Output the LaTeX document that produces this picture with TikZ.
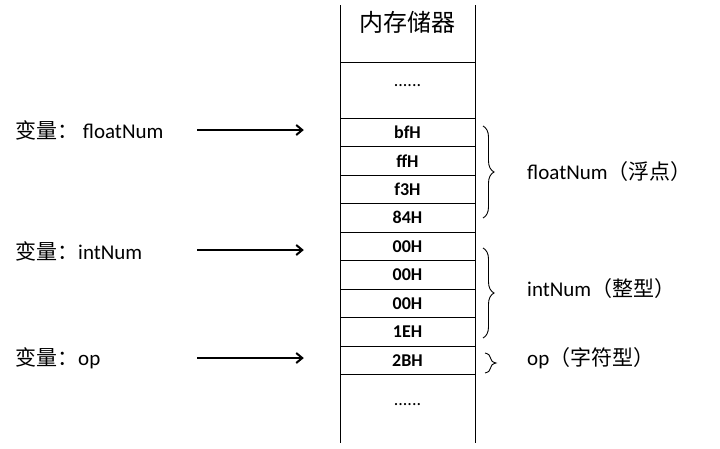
\documentclass[tikz,border=0pt]{standalone}
\usepackage{fontspec}
\setmainfont{Carlito}
\newfontfamily\cjk{Noto Sans CJK SC}
\usetikzlibrary{arrows.meta,decorations.pathreplacing}
\tikzset{
  cell/.style = {draw, minimum width = 135pt, minimum height = 28.5pt, inner sep = 0pt,
                 font = \fontsize{18}{18}\selectfont\bfseries},
  lab/.style = {anchor = west, inner sep = 0pt, font = \fontsize{21}{21}\selectfont},
  ptr/.style = {-{Straight Barb[length=6pt, width=10pt]}, line width = 2pt},
  brc/.style = {decorate, decoration = {brace, amplitude = 11pt}, line width = 0.9pt}
}

\begin{document}
\begin{tikzpicture}[x = 1pt, y = -1pt]
  \useasboundingbox (0, 0) rectangle (720, 448);
  % memory column
  \draw [line width = 0.8pt] (340, 5) -- (340, 443);
  \draw [line width = 0.8pt] (475, 5) -- (475, 443);
  \draw [line width = 0.8pt] (340, 62) -- (475, 62);
  \node (MT) at (407.5, 22) {\fontsize{24}{24}\selectfont\cjk 内存储器};
  \node (D1) at (407.5, 86) {\fontsize{18}{18}\selectfont ......};
  \node (D2) at (407.5, 405) {\fontsize{18}{18}\selectfont ......};
  \foreach \v [count = \i] in {bfH, ffH, f3H, 84H, 00H, 00H, 00H, 1EH, 2BH}
    \node [cell] (C\i) at (407.5, 103.75 + 28.5*\i) {\v};
  % variables
  \node [lab] (V1) at (15, 130) {{\cjk 变量：} floatNum};
  \node [lab] (V2) at (15, 251) {{\cjk 变量：}intNum};
  \node [lab] (V3) at (15, 358) {{\cjk 变量：}op};
  \coordinate (P1) at (197, 130);
  \coordinate (P2) at (197, 250);
  \coordinate (P3) at (197, 358);
  \draw [ptr] (P1) -- ([xshift = -36pt] C1.west |- P1);
  \draw [ptr] (P2) -- ([xshift = -36pt] C5.west |- P2);
  \draw [ptr] (P3) -- ([xshift = -36pt] C9.west |- P3);
  % braces
  \draw [brc] (483, 126) -- (483, 218) coordinate [midway] (B1);
  \draw [brc] (483, 248) -- (483, 338) coordinate [midway] (B2);
  \draw [brc] (485, 353) -- (485, 373) coordinate [midway] (B3);
  \node [lab] (T1) at (527, 172) {floatNum{\cjk （浮点）}};
  \node [lab] (T2) at (527, 289) {intNum{\cjk （整型）}};
  \node [lab] (T3) at (527, 358) {op{\cjk （字符型）}};
\end{tikzpicture}
\end{document}
